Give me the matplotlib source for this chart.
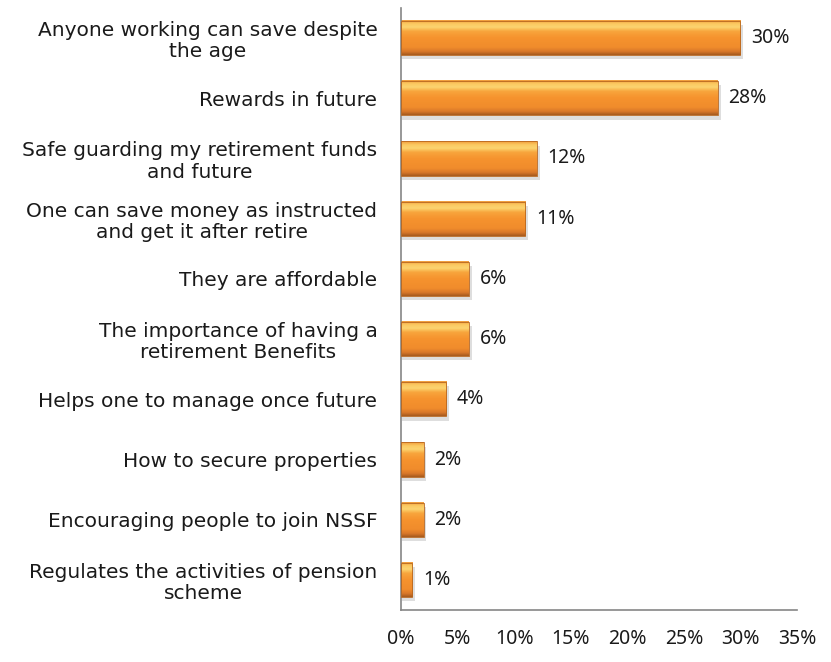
import numpy as np
import matplotlib.pyplot as plt
from matplotlib.colors import LinearSegmentedColormap
from matplotlib.patches import Rectangle

categories = [
    "Anyone working can save despite\nthe age",
    "Rewards in future",
    "Safe guarding my retirement funds\nand future",
    "One can save money as instructed\nand get it after retire",
    "They are affordable",
    "The importance of having a\nretirement Benefits",
    "Helps one to manage once future",
    "How to secure properties",
    "Encouraging people to join NSSF",
    "Regulates the activities of pension\nscheme",
]
values = [30, 28, 12, 11, 6, 6, 4, 2, 2, 1]
xticks = [0, 5, 10, 15, 20, 25, 30, 35]

plt.rcParams['font.family'] = ['DejaVu Sans']
num_font = ['Noto Sans', 'DejaVu Sans']

fig = plt.figure(figsize=(8.31, 6.62), dpi=100)
ax = fig.add_axes([0.4826, 0.0785, 0.4765, 0.9095])

n = len(categories)
ypos = np.arange(n)
bar_h = 0.57

# top-to-bottom shading of each bar: thin highlight, orange body, darker base
cmap = LinearSegmentedColormap.from_list("bar", [
    (0.00, "#F09A3A"),
    (0.10, "#FBC860"),
    (0.20, "#FCD470"),
    (0.32, "#F8A53C"),
    (0.50, "#F6932E"),
    (0.78, "#F08C2C"),
    (0.90, "#D9782A"),
    (1.00, "#A65A1E"),
])
grad = np.linspace(0, 1, 128).reshape(-1, 1)

for y, v in zip(ypos, values):
    # soft shadow below/right of the bar
    ax.add_patch(Rectangle((0.1, y - bar_h / 2 + 0.07), v + 0.15, bar_h,
                           facecolor="#000000", alpha=0.13, linewidth=0, zorder=1))
    ax.imshow(grad, cmap=cmap, aspect="auto", origin="upper",
              extent=(0, v, y + bar_h / 2, y - bar_h / 2), zorder=2)
    ax.add_patch(Rectangle((0, y - bar_h / 2), v, bar_h, facecolor="none",
                           edgecolor="#B8661E", linewidth=0.6, zorder=3))
    ax.text(v + 0.95, y, f"{v}%", va="center", ha="left", fontsize=14,
            color="#1a1a1a", family=num_font)

ax.set_xlim(0, 35)
ax.set_ylim(n - 0.5, -0.5)
ax.set_yticks(ypos)
ax.set_yticklabels(categories, fontsize=14.5, color="#1a1a1a",
                   multialignment="center", linespacing=1.15)
ax.set_xticks(xticks)
ax.set_xticklabels([f"{t}%" for t in xticks], fontsize=14, color="#1a1a1a",
                   family=num_font)
ax.tick_params(axis="both", length=0)
ax.tick_params(axis="x", pad=14)
ax.tick_params(axis="y", pad=17)

for s in ["top", "right"]:
    ax.spines[s].set_visible(False)
for s in ["left", "bottom"]:
    ax.spines[s].set_color("#868686")
    ax.spines[s].set_linewidth(1.2)

fig.savefig("out.png", dpi=100)
